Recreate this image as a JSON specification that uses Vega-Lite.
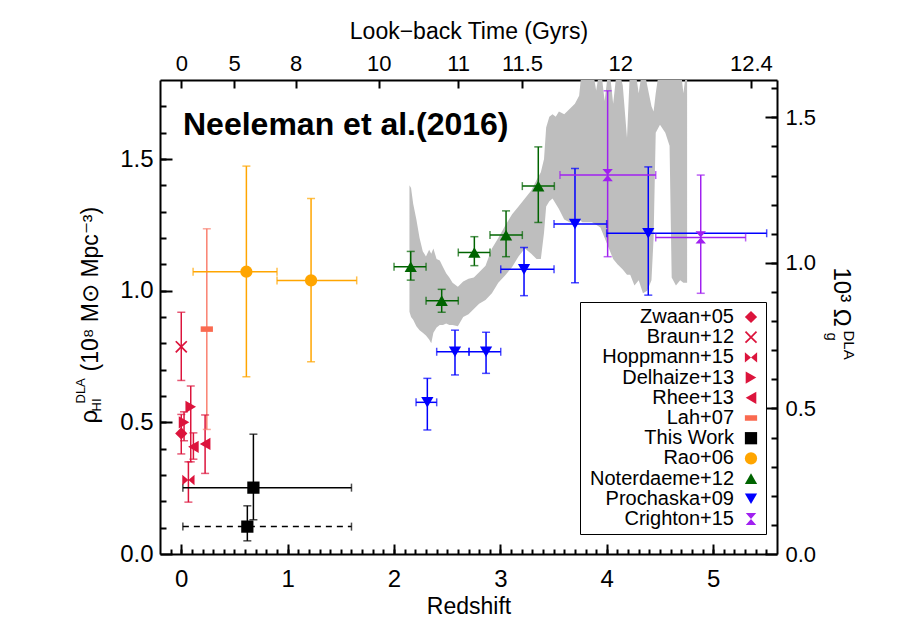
{
  "$schema": "https://vega.github.io/schema/vega-lite/v6.json",
  "width": 617,
  "height": 474,
  "autosize": {"type": "none"},
  "padding": {"left": 160, "top": 80, "right": 126, "bottom": 74},
  "background": "white",
  "config": {
    "view": {"stroke": null},
    "font": "Liberation Sans",
    "axis": {
      "grid": false, "domainColor": "black", "domainWidth": 2, "tickColor": "black", "tickWidth": 2,
      "labelColor": "black", "titleColor": "black", "labelFont": "Liberation Sans", "titleFont": "Liberation Sans",
      "titleFontWeight": "normal", "labelFlush": false, "labelOverlap": false, "zindex": 1
    },
    "legend": {"labelFont": "Liberation Sans", "labelFontSize": 20, "labelColor": "black", "symbolSize": 150, "rowPadding": 0.2, "padding": 5, "strokeColor": "black", "fillColor": "white", "cornerRadius": 0, "labelLimit": 200, "symbolOpacity": 1}
  },
  "title": {"text": "Neeleman et al.(2016)", "anchor": "start", "frame": "group", "orient": "top", "fontSize": 32, "fontWeight": "bold", "font": "Liberation Sans", "color": "black", "baseline": "alphabetic", "dx": 23, "dy": 147, "offset": 0},
  "datasets": {
    "band": [
      {"bz":2.145,"blo":0.92,"bhi":1.40},{"bz":2.16,"blo":0.90,"bhi":1.39},{"bz":2.18,"blo":0.89,"bhi":1.33},
      {"bz":2.21,"blo":0.865,"bhi":1.27},{"bz":2.24,"blo":0.85,"bhi":1.20},{"bz":2.27,"blo":0.84,"bhi":1.15},
      {"bz":2.30,"blo":0.83,"bhi":1.13},{"bz":2.33,"blo":0.815,"bhi":1.155},{"bz":2.35,"blo":0.80,"bhi":1.14},
      {"bz":2.37,"blo":0.84,"bhi":1.16},{"bz":2.40,"blo":0.86,"bhi":1.12},{"bz":2.43,"blo":0.87,"bhi":1.115},
      {"bz":2.46,"blo":0.87,"bhi":1.09},{"bz":2.49,"blo":0.875,"bhi":1.066},{"bz":2.52,"blo":0.87,"bhi":1.05},
      {"bz":2.55,"blo":0.87,"bhi":1.03},{"bz":2.60,"blo":0.865,"bhi":1.015},{"bz":2.65,"blo":0.90,"bhi":1.035},
      {"bz":2.70,"blo":0.91,"bhi":1.045},{"bz":2.75,"blo":0.93,"bhi":1.05},{"bz":2.80,"blo":0.95,"bhi":1.07},
      {"bz":2.86,"blo":0.965,"bhi":1.095},{"bz":2.92,"blo":0.99,"bhi":1.16},{"bz":2.98,"blo":1.03,"bhi":1.20},
      {"bz":3.05,"blo":1.06,"bhi":1.25},{"bz":3.11,"blo":1.09,"bhi":1.29},{"bz":3.17,"blo":1.13,"bhi":1.32},
      {"bz":3.23,"blo":1.16,"bhi":1.35},{"bz":3.29,"blo":1.14,"bhi":1.38},{"bz":3.34,"blo":1.12,"bhi":1.42},
      {"bz":3.38,"blo":1.12,"bhi":1.45},{"bz":3.41,"blo":1.22,"bhi":1.50},{"bz":3.43,"blo":1.32,"bhi":1.62},
      {"bz":3.46,"blo":1.34,"bhi":1.66},{"bz":3.49,"blo":1.35,"bhi":1.67},{"bz":3.52,"blo":1.33,"bhi":1.66},
      {"bz":3.55,"blo":1.31,"bhi":1.68},{"bz":3.60,"blo":1.27,"bhi":1.67},{"bz":3.65,"blo":1.26,"bhi":1.69},
      {"bz":3.70,"blo":1.26,"bhi":1.71},{"bz":3.74,"blo":1.27,"bhi":1.74},{"bz":3.77,"blo":1.26,"bhi":1.86},
      {"bz":3.82,"blo":1.26,"bhi":1.80},{"bz":3.86,"blo":1.26,"bhi":1.86},{"bz":3.90,"blo":1.25,"bhi":1.76},
      {"bz":3.94,"blo":1.24,"bhi":1.86},{"bz":3.98,"blo":1.20,"bhi":1.72},{"bz":4.02,"blo":1.16,"bhi":1.86},
      {"bz":4.06,"blo":1.12,"bhi":1.71},{"bz":4.10,"blo":1.10,"bhi":1.86},{"bz":4.15,"blo":1.08,"bhi":1.78},
      {"bz":4.19,"blo":1.06,"bhi":1.58},{"bz":4.22,"blo":1.06,"bhi":1.86},{"bz":4.26,"blo":1.02,"bhi":1.86},
      {"bz":4.30,"blo":1.04,"bhi":1.75},{"bz":4.34,"blo":0.99,"bhi":1.86},{"bz":4.38,"blo":1.00,"bhi":1.78},
      {"bz":4.42,"blo":1.04,"bhi":1.70},{"bz":4.44,"blo":1.20,"bhi":1.68},{"bz":4.46,"blo":1.60,"bhi":1.75},
      {"bz":4.50,"blo":1.63,"bhi":1.86},{"bz":4.55,"blo":1.60,"bhi":1.80},{"bz":4.59,"blo":1.55,"bhi":1.86},
      {"bz":4.61,"blo":1.05,"bhi":1.86},{"bz":4.65,"blo":1.02,"bhi":1.80},{"bz":4.69,"blo":1.04,"bhi":1.86},
      {"bz":4.72,"blo":1.03,"bhi":1.75},{"bz":4.755,"blo":1.03,"bhi":1.86}
    ],
    "pts": [
      {"series":"Zwaan+05","z":0.0,"rho":0.458,"rlo":0.38,"rhi":0.53},
      {"series":"Braun+12","z":0.0,"rho":0.787,"rlo":0.659,"rhi":0.918},
      {"series":"Hoppmann+15","z":0.067,"rho":0.281,"rlo":0.197,"rhi":0.35},
      {"series":"Delhaize+13","z":0.026,"rho":0.50,"rlo":0.43,"rhi":0.54},
      {"series":"Delhaize+13","z":0.089,"rho":0.559,"rlo":0.35,"rhi":0.638},
      {"series":"Rhee+13","z":0.114,"rho":0.407,"rlo":0.36,"rhi":0.46},
      {"series":"Rhee+13","z":0.224,"rho":0.418,"rlo":0.306,"rhi":0.528},
      {"series":"Lah+07","z":0.24,"rho":0.854,"rlo":0.473,"rhi":1.235},
      {"series":"This Work","z":0.678,"rho":0.252,"zlo":0.015,"zhi":1.6,"rlo":0.13,"rhi":0.455,"method":"A"},
      {"series":"This Work","z":0.621,"rho":0.104,"zlo":0.015,"zhi":1.6,"rlo":0.05,"rhi":0.183,"method":"B"},
      {"series":"Rao+06","z":0.612,"rho":1.072,"zlo":0.111,"zhi":0.9,"rlo":0.673,"rhi":1.473},
      {"series":"Rao+06","z":1.22,"rho":1.039,"zlo":0.9,"zhi":1.649,"rlo":0.73,"rhi":1.35},
      {"series":"Noterdaeme+12","z":2.157,"rho":1.091,"zlo":2.0,"zhi":2.301,"rlo":1.04,"rhi":1.149},
      {"series":"Noterdaeme+12","z":2.448,"rho":0.962,"zlo":2.301,"zhi":2.604,"rlo":0.918,"rhi":1.005},
      {"series":"Noterdaeme+12","z":2.755,"rho":1.145,"zlo":2.604,"zhi":2.902,"rlo":1.095,"rhi":1.205},
      {"series":"Noterdaeme+12","z":3.053,"rho":1.211,"zlo":2.902,"zhi":3.206,"rlo":1.129,"rhi":1.303},
      {"series":"Noterdaeme+12","z":3.356,"rho":1.397,"zlo":3.206,"zhi":3.507,"rlo":1.259,"rhi":1.546},
      {"series":"Prochaska+09","z":2.313,"rho":0.576,"zlo":2.207,"zhi":2.401,"rlo":0.471,"rhi":0.667},
      {"series":"Prochaska+09","z":2.573,"rho":0.768,"zlo":2.401,"zhi":2.705,"rlo":0.68,"rhi":0.85},
      {"series":"Prochaska+09","z":2.865,"rho":0.768,"zlo":2.705,"zhi":3.003,"rlo":0.686,"rhi":0.842},
      {"series":"Prochaska+09","z":3.222,"rho":1.081,"zlo":3.003,"zhi":3.504,"rlo":0.981,"rhi":1.164},
      {"series":"Prochaska+09","z":3.701,"rho":1.253,"zlo":3.504,"zhi":3.999,"rlo":1.03,"rhi":1.464},
      {"series":"Prochaska+09","z":4.39,"rho":1.218,"zlo":3.999,"zhi":5.503,"rlo":0.983,"rhi":1.47},
      {"series":"Crighton+15","z":4.008,"rho":1.439,"zlo":3.56,"zhi":4.46,"rlo":1.129,"rhi":1.759},
      {"series":"Crighton+15","z":4.883,"rho":1.202,"zlo":4.46,"zhi":5.305,"rlo":0.99,"rhi":1.439}
    ]
  },
  "layer": [
    {
      "data": {"name": "band"},
      "mark": {"type": "area", "color": "#bebebe", "clip": true},
      "encoding": {
        "x": {"field": "bz", "type": "quantitative", "scale": {"domain": [-0.2, 5.6], "nice": false, "zero": false},
          "axis": {"orient": "bottom", "values": [0,1,2,3,4,5], "format": "d", "tickSize": -10, "labelPadding": 42, "labelBaseline": "alphabetic", "labelFontSize": 24, "labelAngle": 0,
            "title": "Redshift", "titleFontSize": 23, "titleY": 59, "titleBaseline": "alphabetic"}},
        "y": {"field": "blo", "type": "quantitative", "scale": {"domain": [0, 1.8], "nice": false, "zero": false},
          "axis": {"orient": "left", "values": [0, 0.5, 1, 1.5], "format": ".1f", "tickSize": -12, "labelPadding": 19, "labelFontSize": 24,
            "title": "(10⁸ M⊙ Mpc⁻³)", "titleFontSize": 23, "titleAngle": -90, "titleAlign": "left", "titleBaseline": "alphabetic", "titleX": -63, "titleY": 291}},
        "y2": {"field": "bhi"}
      }
    },
    {
      "data": {"name": "pts"},
      "transform": [{"filter": "isValid(datum.rlo)"}],
      "mark": {"type": "rule", "strokeWidth": 1.5},
      "encoding": {
        "x": {"field": "z", "type": "quantitative", "scale": {"domain": [-0.2, 5.6], "nice": false, "zero": false},
          "axis": {"orient": "top", "values": [0, 0.497, 1.075, 1.856, 2.603, 3.203, 4.127, 5.355],
            "labelExpr": "datum.value < 0.2 ? '0' : datum.value < 0.8 ? '5' : datum.value < 1.5 ? '8' : datum.value < 2.2 ? '10' : datum.value < 2.9 ? '11' : datum.value < 3.6 ? '11.5' : datum.value < 4.7 ? '12' : '12.4'",
            "tickSize": -8, "labelPadding": 18, "labelBaseline": "alphabetic", "labelFontSize": 22, "labelAngle": 0,
            "title": "Look−back Time (Gyrs)", "titleFontSize": 23, "titleY": -42, "titleBaseline": "alphabetic"}},
        "y": {"field": "rlo", "type": "quantitative", "scale": {"domain": [0, 1.8], "nice": false, "zero": false},
          "axis": {"orient": "right", "values": [0, 0.5528, 1.1055, 1.6583],
            "labelExpr": "datum.value < 0.1 ? '0.0' : datum.value < 0.8 ? '0.5' : datum.value < 1.3 ? '1.0' : '1.5'",
            "tickSize": -12, "labelPadding": 20, "labelFontSize": 22,
            "title": "10³ Ω", "titleFontSize": 24, "titleAngle": 90, "titleAlign": "left", "titleBaseline": "alphabetic", "titleX": 56, "titleY": 187}},
        "y2": {"field": "rhi"},
        "stroke": {"field": "series", "type": "nominal", "legend": null,
          "scale": {"domain": ["Crighton+15","Prochaska+09","Noterdaeme+12","Rao+06","This Work","Lah+07","Rhee+13","Delhaize+13","Hoppmann+15","Braun+12","Zwaan+05"],
            "range": ["#a020f0","#0000ff","#006400","#ffa500","#000000","#fa8070","#dc143c","#dc143c","#dc143c","#dc143c","#dc143c"]}}
      }
    },
    {
      "data": {"name": "pts"},
      "transform": [{"filter": "isValid(datum.zlo) && datum.method != 'B'"}],
      "mark": {"type": "rule", "strokeWidth": 1.5},
      "encoding": {
        "x": {"field": "zlo", "type": "quantitative", "scale": {"domain": [-0.2, 5.6], "nice": false, "zero": false},
          "axis": {"orient": "bottom", "values": [-0.1,0,0.1,0.2,0.3,0.4,0.5,0.6,0.7,0.8,0.9,1,1.1,1.2,1.3,1.4,1.5,1.6,1.7,1.8,1.9,2,2.1,2.2,2.3,2.4,2.5,2.6,2.7,2.8,2.9,3,3.1,3.2,3.3,3.4,3.5,3.6,3.7,3.8,3.9,4,4.1,4.2,4.3,4.4,4.5,4.6,4.7,4.8,4.9,5,5.1,5.2,5.3,5.4,5.5],
            "tickSize": -5, "labels": false, "domain": false, "title": null}},
        "x2": {"field": "zhi"},
        "y": {"field": "rho", "type": "quantitative", "scale": {"domain": [0, 1.8], "nice": false, "zero": false},
          "axis": {"orient": "left", "values": [0.1,0.2,0.3,0.4,0.5,0.6,0.7,0.8,0.9,1,1.1,1.2,1.3,1.4,1.5,1.6,1.7],
            "tickSize": -6, "labels": false, "domain": false,
            "title": "ρ", "titleFontSize": 24, "titleAngle": -90, "titleAlign": "left", "titleBaseline": "alphabetic", "titleX": -64, "titleY": 343}},
        "stroke": {"field": "series", "type": "nominal", "legend": null}
      }
    },
    {
      "data": {"name": "pts"},
      "transform": [{"filter": "datum.method == 'B'"}],
      "mark": {"type": "rule", "strokeWidth": 1.5, "strokeDash": [6, 5]},
      "encoding": {
        "x": {"field": "zlo", "type": "quantitative", "scale": {"domain": [-0.2, 5.6], "nice": false, "zero": false}, "axis": null},
        "x2": {"field": "zhi"},
        "y": {"field": "rho", "type": "quantitative", "scale": {"domain": [0, 1.8], "nice": false, "zero": false},
          "axis": {"orient": "right", "values": [0.1106,0.2211,0.3317,0.4422,0.5528,0.6633,0.7739,0.8844,0.995,1.1055,1.2161,1.3266,1.4372,1.5477,1.6583,1.7688],
            "tickSize": -6, "labels": false, "domain": false,
            "title": "g", "titleFontSize": 15, "titleAngle": 90, "titleAlign": "left", "titleBaseline": "alphabetic", "titleX": 49, "titleY": 252}},
        "stroke": {"field": "series", "type": "nominal", "legend": null}
      }
    },
    {
      "data": {"name": "pts"},
      "transform": [{"fold": ["rlo", "rhi"], "as": ["ek", "ev"]}, {"filter": "isValid(datum.ev)"}],
      "mark": {"type": "tick", "orient": "horizontal", "size": 8, "thickness": 1.5},
      "encoding": {
        "x": {"field": "z", "type": "quantitative", "scale": {"domain": [-0.2, 5.6], "nice": false, "zero": false}, "axis": null},
        "y": {"field": "ev", "type": "quantitative", "scale": {"domain": [0, 1.8], "nice": false, "zero": false},
          "axis": {"orient": "left", "labels": false, "ticks": false, "domain": false,
            "title": "HI", "titleFontSize": 13, "titleAngle": -90, "titleAlign": "left", "titleBaseline": "alphabetic", "titleX": -60, "titleY": 331}},
        "fill": {"field": "series", "type": "nominal", "legend": null,
          "scale": {"domain": ["Braun+12","Crighton+15","Delhaize+13","Hoppmann+15","Lah+07","Noterdaeme+12","Prochaska+09","Rao+06","Rhee+13","This Work","Zwaan+05"],
            "range": ["#dc143c","#a020f0","#dc143c","#dc143c","#fa8070","#006400","#0000ff","#ffa500","#dc143c","#000000","#dc143c"]}}
      }
    },
    {
      "data": {"name": "pts"},
      "transform": [{"fold": ["zlo", "zhi"], "as": ["ek", "ev"]}, {"filter": "isValid(datum.ev)"}],
      "mark": {"type": "tick", "orient": "vertical", "size": 8, "thickness": 1.5},
      "encoding": {
        "x": {"field": "ev", "type": "quantitative", "scale": {"domain": [-0.2, 5.6], "nice": false, "zero": false}, "axis": null},
        "y": {"field": "rho", "type": "quantitative", "scale": {"domain": [0, 1.8], "nice": false, "zero": false},
          "axis": {"orient": "left", "labels": false, "ticks": false, "domain": false,
            "title": "DLA", "titleFontSize": 13, "titleAngle": -90, "titleAlign": "left", "titleBaseline": "alphabetic", "titleX": -76, "titleY": 323}},
        "fill": {"field": "series", "type": "nominal", "legend": null}
      }
    },
    {
      "data": {"name": "pts"},
      "mark": {"type": "point", "filled": true, "size": 150, "opacity": 1},
      "encoding": {
        "x": {"field": "z", "type": "quantitative", "scale": {"domain": [-0.2, 5.6], "nice": false, "zero": false}, "axis": null},
        "y": {"field": "rho", "type": "quantitative", "scale": {"domain": [0, 1.8], "nice": false, "zero": false},
          "axis": {"orient": "right", "labels": false, "ticks": false, "domain": false,
            "title": "DLA", "titleFontSize": 15, "titleAngle": 90, "titleAlign": "left", "titleBaseline": "alphabetic", "titleX": 66, "titleY": 250}},
        "color": {"field": "series", "type": "nominal",
          "scale": {"domain": ["Zwaan+05","Braun+12","Hoppmann+15","Delhaize+13","Rhee+13","Lah+07","This Work","Rao+06","Noterdaeme+12","Prochaska+09","Crighton+15"],
            "range": ["#dc143c","#dc143c","#dc143c","#dc143c","#dc143c","#fa6a50","#000000","#ffa500","#006400","#0000ff","#a020f0"]},
          "legend": {"orient": "none", "legendX": 420, "legendY": 222, "title": null, "labelAlign": "right", "labelOffset": -27, "symbolOffset": 156}},
        "shape": {"field": "series", "type": "nominal",
          "scale": {"domain": ["Zwaan+05","Braun+12","Hoppmann+15","Delhaize+13","Rhee+13","Lah+07","This Work","Rao+06","Noterdaeme+12","Prochaska+09","Crighton+15"],
            "range": ["diamond", "M1,-0.8L0.2,0L1,0.8L0.8,1L0,0.2L-0.8,1L-1,0.8L-0.2,0L-1,-0.8L-0.8,-1L0,-0.2L0.8,-1Z", "M-1,-0.85L0,0L-1,0.85ZM1,-0.85L0,0L1,0.85Z", "triangle-right", "triangle-left", "M-1,-0.45L1,-0.45L1,0.45L-1,0.45Z", "square", "circle", "triangle-up", "triangle-down", "M-0.85,-1L0.85,-1L0,0ZM-0.85,1L0.85,1L0,0Z"]},
          "legend": {"orient": "none", "legendX": 420, "legendY": 222, "title": null, "labelAlign": "right", "labelOffset": -27, "symbolOffset": 156}}
      }
    }
  ],
  "resolve": {"axis": {"x": "independent", "y": "independent"}}
}
